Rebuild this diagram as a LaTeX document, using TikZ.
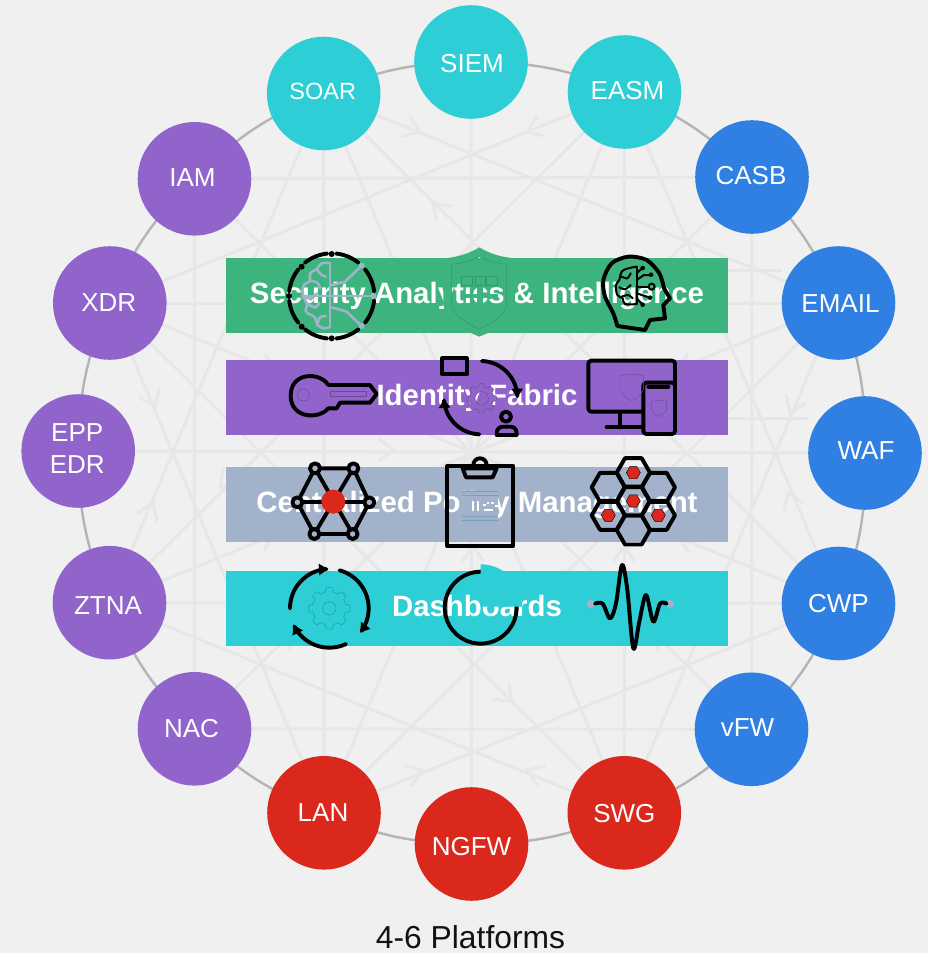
\documentclass[tikz,border=0pt]{standalone}
\usepackage{fontspec}
\setmainfont{Liberation Sans}
\usetikzlibrary{backgrounds,arrows.meta}
\definecolor{bgc}{HTML}{F0F0F0}
\definecolor{webc}{HTML}{E7E7E7}
\definecolor{ringc}{HTML}{B4B4B4}
\definecolor{cyanc}{HTML}{2DCED6}
\definecolor{bluec}{HTML}{3080E3}
\definecolor{purc}{HTML}{9164CC}
\definecolor{redc}{HTML}{DA291C}
\definecolor{grnc}{HTML}{3DB37D}
\definecolor{gbc}{HTML}{A2B2CA}
\definecolor{hairc}{HTML}{7F9DBB}
\tikzset{
  plat/.style={circle,minimum size=113.6pt,inner sep=0pt,draw=none},
  lbl/.style={text=white,font=\fontsize{26}{32}\selectfont,align=center,inner sep=0pt},
  barbox/.style={rectangle,minimum width=502pt,minimum height=75pt,inner sep=0pt,draw=none,text=white,
    font=\fontsize{29.4}{32}\bfseries\selectfont,text height=21.5pt,text depth=6.2pt},
  web/.style={draw=webc,line width=3pt},
  chv/.style={draw=webc,line width=3pt,line cap=round,line join=miter},
  ringl/.style={draw=ringc,line width=2.4pt},
  ico/.style={draw=black,line width=3.9pt,line join=round,line cap=round},
  thin ico/.style={draw=black,line width=2pt,line join=round,line cap=round},
  gbl/.style={draw=gbc,line width=2.6pt,line join=round,line cap=round},
  azA/.style={shift={(220,230)},x=0.33333pt,y=-0.33333pt},
  azB/.style={shift={(220,440)},x=0.33333pt,y=-0.33333pt},
  tipped/.style={-{Triangle[length=9pt,width=11pt]}}
}
\newcommand\platnode[7]{\node[plat,fill=#4,label={[lbl,xshift=#5,yshift=#6]center:#7}] (#1) at (#2,#3) {};}
\newcommand\chev[3]{\draw[chv,shift={(#1,#2)},rotate=#3] (-14.8,-10.4)--(0,0)--(-14.8,10.4);}
\newcommand\parc[5]{plot[domain=#4:#5,samples=40] ({#1+#3*cos(\x)},{#2-#3*sin(\x)})}
\newcommand\gearplot[3]{plot[domain=0:360,samples=161] ({#1+#3*(1+0.11*max(-1,min(1,3*cos(8*\x))))*cos(\x)},{#2-#3*(1+0.11*max(-1,min(1,3*cos(8*\x))))*sin(\x)})}
\newcommand\hexcell[4]{\draw[#4] (#1-#3,#2)--(#1-#3/2,#2-#3*0.87)--(#1+#3/2,#2-#3*0.87)--(#1+#3,#2)--(#1+#3/2,#2+#3*0.87)--(#1-#3/2,#2+#3*0.87)--cycle;}
\begin{document}
\begin{tikzpicture}[x=1pt,y=-1pt]
\useasboundingbox (0,0) rectangle (928,953);
\begin{scope}[on background layer]
\fill[bgc] (0,0) rectangle (928,953);
\end{scope}
% platforms
\platnode{n0}{471}{62}{cyanc}{1}{-2}{SIEM}
\platnode{n1}{624.5}{92}{cyanc}{3}{1}{EASM}
\platnode{n2}{752}{177}{bluec}{-1}{1}{CASB}
\platnode{n3}{838.5}{303}{bluec}{2}{-1}{EMAIL}
\platnode{n4}{865}{453}{bluec}{1}{2.5}{WAF}
\platnode{n5}{838.5}{603.5}{bluec}{0}{0}{CWP}
\platnode{n6}{751.5}{729.3}{bluec}{-4}{1.5}{vFW}
\platnode{n7}{624.3}{812.8}{redc}{0}{-0.5}{SWG}
\platnode{n8}{471.5}{844}{redc}{0}{-3}{NGFW}
\platnode{n9}{324}{812.8}{redc}{-1}{0}{LAN}
\platnode{n10}{194.5}{728.8}{purc}{-3}{0}{NAC}
\platnode{n11}{109.5}{602.7}{purc}{-1.5}{-3}{ZTNA}
\platnode{n12}{78.2}{451}{purc}{-1}{2.4}{EPP\\EDR}
\platnode{n13}{109.8}{303}{purc}{-1}{0}{XDR}
\platnode{n14}{194.5}{178.8}{purc}{-2}{1}{IAM}
\node[plat,fill=cyanc,label={[lbl,font=\fontsize{23.5}{28}\selectfont,xshift=-1,yshift=2]center:SOAR}] (n15) at (323.7,93.5) {};
\coordinate (stubA) at (782,270);
\coordinate (stubAb) at (600,270);
\coordinate (stubB) at (809,418);
\coordinate (stubBb) at (600,418);
\begin{scope}[on background layer]
\foreach \a/\b in {0/8,1/9,2/10,3/11,4/12,5/13,6/14,7/15,
  2/6,6/10,10/14,14/2,1/5,5/9,9/13,13/1,3/7,7/11,11/15,15/3,
  1/7,7/13,13/3,3/9,9/15,15/5,5/11,11/1}
  \draw[web] (n\a.center) -- (n\b.center);
\draw[web] (stubAb) -- (stubA);
\draw[web] (stubBb) -- (stubB);
\chev{420}{132}{-22.1}
\chev{527}{132}{202.3}
\chev{433}{203}{135}
\chev{422}{770}{22.1}
\chev{155}{407}{-67.2}
\chev{153}{503}{67.2}
\chev{220}{487}{225}
\chev{790}{413}{-112.8}
\chev{788}{493}{112.7}
\chev{512}{702}{-45}
\chev{527}{770}{157.9}
\chev{275}{370}{-22.4}
\chev{678}{369}{-157.7}
\chev{394}{450}{0}
\chev{473}{546}{90}
\chev{624}{546}{90}
\chev{274}{535}{22.4}
\chev{679}{537}{157.6}
\chev{293}{631}{45}
\chev{655}{632}{135}
\foreach \a/\b in {0/1,1/2,2/3,3/4,4/5,5/6,6/7,7/8,8/9,9/10,10/11,11/12,12/13,13/14,14/15,15/0}
  \draw[ringl] (n\a.center) to[bend left=11.25] (n\b.center);
\end{scope}
% bars
\node[barbox,fill=grnc] (barA) at (477,295.4) {Security Analytics \& Intelligence};
\node[barbox,fill=purc] (barB) at (477,397.4) {Identity Fabric};
\node[barbox,fill=gbc] (barC) at (477,504.4) {Centralized Policy Management};
\node[barbox,fill=cyanc] (barD) at (477,608.4) {Dashboards};
\node[text=black!93,font=\fontsize{31.8}{36}\selectfont,inner sep=0pt] (cap) at (470.5,937.5) {4-6 Platforms};
% ---------- row 1 ----------
\begin{scope}[azA]
% brain circle
\foreach \a/\b in {6/39,51/84,96/129,141/174,186/219,231/264,276/309,321/354}
  \draw[ico] \parc{335}{198}{128}{\a}{\b};
\foreach \p/\q in {335/72,245/110,207/198,245/290,335/325}
  \fill[black] (\p,\q) circle[radius=9];
\foreach \p/\q in {460/198,425/107,425/288}
  \fill[gbc] (\p,\q) circle[radius=9];
\draw[gbl] (330,100) -- (330,290);
\draw[gbl] plot[smooth,tension=0.7] coordinates {(330,100)(305,100)(290,118)(270,130)(270,152)(250,168)(250,200)(262,222)(258,245)(285,262)(292,285)(315,295)(330,290)};
\draw[gbl] plot[smooth] coordinates {(290,118)(305,135)(318,140)};
\draw[gbl] plot[smooth] coordinates {(270,152)(292,158)(300,175)};
\draw[gbl] plot[smooth] coordinates {(250,200)(275,205)(290,190)};
\draw[gbl] plot[smooth] coordinates {(262,222)(285,232)(298,220)};
\draw[gbl] plot[smooth] coordinates {(292,285)(300,262)(318,258)};
\draw[gbl] (245,198) -- (460,198);
\draw[gbl] (335,165) -- (375,155) -- (425,107);
\draw[gbl] (335,232) -- (380,245) -- (425,288);
% shield
\fill[grnc,even odd rule] (778,52) .. controls (745,72) and (710,82) .. (670,85) -- (670,225) .. controls (672,270) and (730,300) .. (778,320) .. controls (826,300) and (883,270) .. (885,225) -- (885,85) .. controls (846,82) and (811,72) .. (778,52) -- cycle
  (778,80) .. controls (755,92) and (725,100) .. (695,103) -- (695,225) .. controls (698,255) and (745,283) .. (778,297) .. controls (811,283) and (858,255) .. (860,225) -- (860,103) .. controls (831,100) and (801,92) .. (778,80) -- cycle;
\draw[draw=grnc!85!black,line width=0.5pt] (778,80) .. controls (755,92) and (725,100) .. (695,103) -- (695,225) .. controls (698,255) and (745,283) .. (778,297) .. controls (811,283) and (858,255) .. (860,225) -- (860,103) .. controls (831,100) and (801,92) .. (778,80) -- cycle;
\foreach \p/\q in {725/757,765/795,800/832}
  \filldraw[fill=grnc,draw=grnc!85!black,line width=0.4pt] (\p,140) rectangle (\q,165);
\fill[grnc] (725,192) rectangle (835,204);
\fill[grnc] (772,170) rectangle (788,222);
% head with brain
\draw[ico] plot[smooth,tension=0.5] coordinates {(1192,288)(1180,250)(1155,200)(1150,150)(1175,100)(1225,80)(1280,90)(1318,130)(1332,175)};
\draw[ico] (1332,175) -- (1350,205) -- (1330,225) -- (1335,265) -- (1290,270) -- (1275,300) -- (1192,288);
\draw[thin ico] (1250,110) -- (1250,222);
\draw[thin ico] plot[smooth,tension=0.7] coordinates {(1250,110)(1225,115)(1205,125)(1198,150)(1188,165)(1192,195)(1208,205)(1215,222)(1250,222)};
\draw[thin ico] plot[smooth] coordinates {(1205,140)(1222,145)(1232,130)};
\draw[thin ico] plot[smooth] coordinates {(1198,172)(1215,178)(1232,165)};
\draw[thin ico] plot[smooth] coordinates {(1205,200)(1225,195)(1238,205)};
\draw[thin ico] (1250,130) -- (1266,115);
\draw[thin ico] (1250,150) -- (1272,135) -- (1290,135);
\draw[thin ico] (1250,170) -- (1285,170);
\draw[thin ico] (1250,190) -- (1290,203);
\draw[thin ico] (1250,205) -- (1268,224);
\foreach \p/\q in {1268/114,1293/134,1290/203,1268/224} \fill[black] (\p,\q) circle[radius=7];
\draw[thin ico] (1295,170) circle[radius=9];
% key
\draw[ico] (325,465) -- (450,465) -- (470,492) -- (450,518) -- (360,518) -- (350,535) -- (325,535) .. controls (295,570) and (212,565) .. (212,497) .. controls (212,425) and (300,425) .. (325,465);
\draw[draw=purc!75!black,line width=0.5pt] (250,495) circle[radius=18];
\draw[draw=purc!75!black,line width=0.5pt] (330,485) rectangle (440,500);
% identity cycle
\draw[ico] (667,385) rectangle (740,433);
\draw[ico,tipped] \parc{782}{503}{110}{88}{0};
\draw[ico,tipped] \parc{782}{503}{110}{-92}{-178};
\draw[ico,fill=purc] (858,560) circle[radius=15];
\draw[ico] (830,615) .. controls (830,590) and (840,590) .. (860,590) .. controls (880,590) and (890,590) .. (890,615) -- cycle;
% gear
\fill[purc,even odd rule] \gearplot{785}{505}{40} (785,505) circle[radius=20];
\draw[draw=purc!75!black,line width=0.5pt] \gearplot{785}{505}{40};
\draw[draw=purc!75!black,line width=0.5pt] (785,505) circle[radius=20];
% monitor and phone
\draw[ico,rounded corners=3pt] (1105,392) rectangle (1365,545);
\draw[ico,fill=purc,rounded corners=3pt] (1270,458) rectangle (1365,612);
\draw[ico] (1200,547) -- (1200,592);
\draw[ico] (1160,592) -- (1268,592);
\draw[ico] (1285,470) -- (1345,470);
\draw[draw=purc!75!black,line width=0.4pt] (1200,438) .. controls (1225,430) and (1245,430) .. (1270,438) -- (1270,480) .. controls (1260,500) and (1245,508) .. (1235,512) .. controls (1225,508) and (1210,500) .. (1200,480) -- cycle;
\draw[draw=purc!75!black,line width=0.4pt] (1295,515) .. controls (1310,510) and (1325,510) .. (1340,515) -- (1340,540) .. controls (1333,550) and (1325,556) .. (1317,560) .. controls (1310,556) and (1300,550) .. (1295,540) -- cycle;
\end{scope}
% ---------- rows 3 and 4 ----------
\begin{scope}[azB]
% network
\draw[ico] (285,85) -- (400,85) -- (448,187) -- (398,282) -- (283,282) -- (232,187) -- cycle;
\draw[ico] (232,187) -- (448,187);
\draw[ico] (285,85) -- (398,282);
\draw[ico] (400,85) -- (283,282);
\foreach \p/\q in {285/85,400/85,232/187,448/187,283/282,398/282}
  \draw[ico,fill=gbc] (\p,\q) circle[radius=15];
\fill[redc] (340,185) circle[radius=36];
% clipboard
\fill[gbc] (725,155) rectangle (835,240);
\fill[white] (756,182) rectangle (762,212);
\fill[white] (770,182) rectangle (776,212);
\foreach \p/\q in {790/192,800/186,814/186,826/196} \fill[white] (\p,\q) rectangle ++(7,6);
\fill[white] (792,206) rectangle ++(26,6);
\draw[draw=hairc,line width=0.5pt] (725,155) -- (835,155) (725,165) -- (835,165) (725,230) -- (835,230) (725,240) -- (835,240);
\draw[ico] (682,78) rectangle (880,318);
\draw[ico] (728,85) -- (830,85) -- (818,112) -- (738,112) -- cycle;
\draw[ico] (760,76) .. controls (760,48) and (800,48) .. (800,76);
% hexagons
\foreach \p/\q in {1240/98,1165/142,1315/142,1240/183,1165/226,1315/226,1240/270}
  \hexcell{\p}{\q}{50}{ico};
\foreach \p/\q in {1240/98,1240/183,1165/226,1315/226}
  \hexcell{\p}{\q}{21}{fill=redc};
% gear cycle
\draw[ico,tipped] \parc{328}{505}{118}{180}{92};
\draw[ico,tipped] \parc{328}{505}{118}{75}{-38};
\draw[ico,tipped] \parc{328}{505}{118}{-65}{-155};
\draw[draw=cyanc!75!black,line width=0.5pt] \gearplot{328}{505}{56};
\draw[draw=cyanc!75!black,line width=0.5pt] (328,505) circle[radius=20];
% donut
\draw[ico] \parc{782}{503}{108}{90}{-270};
\fill[cyanc] (782,500) -- (782,373) .. controls (852,373) and (906,430) .. (906,500) -- cycle;
% wave
\fill[gbc] (1112,492) circle[radius=12];
\fill[gbc] (1350,492) circle[radius=12];
\draw[ico] plot[smooth,tension=0.55] coordinates {(1125,491)(1148,491)(1170,535)(1188,490)(1206,375)(1222,450)(1240,625)(1258,545)(1278,465)(1300,545)(1320,491)(1340,491)};
\end{scope}
\end{tikzpicture}
\end{document}
